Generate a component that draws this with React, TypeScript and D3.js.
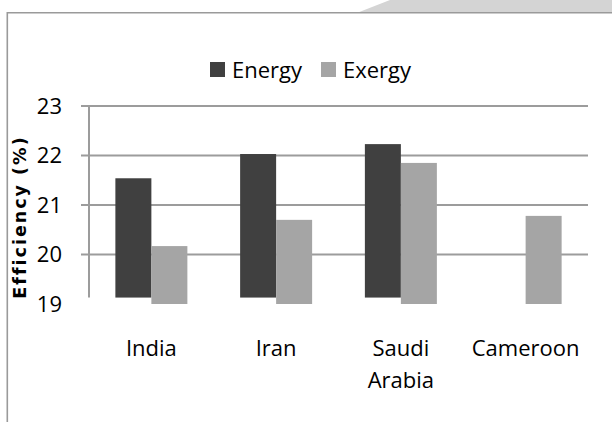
import React from "react";
import * as d3 from "d3";

const categories = ["India", "Iran", "Saudi Arabia", "Cameroon"];
const categoryLines = [["India"], ["Iran"], ["Saudi", "Arabia"], ["Cameroon"]];
const seriesNames = ["Energy", "Exergy"];
const energyValues: (number | null)[] = [21.54, 22.03, 22.23, null];
const exergyValues: (number | null)[] = [20.17, 20.7, 21.85, 20.78];
const yTicks = [19, 20, 21, 22, 23];
const energyBase = 19.13;
const exergyBase = 19;
const axisTitle = "Efficiency (%)";

const colors: Record<string, string> = { Energy: "#404040", Exergy: "#a5a5a5" };
const FONT = "'Open Sans', 'Liberation Sans', sans-serif";

export default function App() {
  const W = 612, H = 422;
  const left = 89, right = 588;
  const y = d3.scaleLinear().domain([19, 23]).range([304, 106]);
  const x0 = d3.scaleBand<string>().domain(categories).range([left, right]).padding(0);
  const step = x0.bandwidth();
  const groupW = 72;
  const x1 = d3
    .scaleBand<string>()
    .domain(seriesNames)
    .range([(step - groupW) / 2, (step + groupW) / 2])
    .padding(0);

  const seriesData: Record<string, (number | null)[]> = {
    Energy: energyValues,
    Exergy: exergyValues,
  };
  const bases: Record<string, number> = { Energy: energyBase, Exergy: exergyBase };
  const grid = yTicks.filter((t) => t > 19);

  return (
    <svg
      width={W}
      height={H}
      style={{ position: "absolute", left: 0, top: 0, background: "#fff" }}
    >
      {/* frame */}
      <polygon points="358,12.5 390,0 612,0 612,12.5" fill="#d4d4d4" />
      <line x1={7} x2={612} y1={12.7} y2={12.7} stroke="#9a9a9a" strokeWidth={1.6} />
      <line x1={7.3} x2={7.3} y1={12} y2={422} stroke="#9a9a9a" strokeWidth={1.6} />

      {/* legend */}
      {seriesNames.map((s, i) => {
        const lx = i === 0 ? 210 : 321;
        return (
          <g key={s}>
            <rect x={lx} y={62} width={15} height={15} fill={colors[s]} />
            <text x={lx + 22} y={77.5} fontFamily={FONT} fontSize={22} fill="#000">
              {s}
            </text>
          </g>
        );
      })}

      {/* gridlines + ticks */}
      {grid.map((t) => (
        <line
          key={t}
          x1={81}
          x2={right}
          y1={y(t)}
          y2={y(t)}
          stroke="#9c9c9c"
          strokeWidth={2}
        />
      ))}
      <line x1={left} x2={left} y1={y(23) - 1} y2={y(energyBase)} stroke="#9c9c9c" strokeWidth={2} />

      {/* tick labels */}
      {yTicks.map((t) => (
        <text
          key={t}
          x={62}
          y={y(t)}
          dy="0.36em"
          textAnchor="end"
          fontFamily={FONT}
          fontSize={22}
          fill="#000"
        >
          {t}
        </text>
      ))}

      {/* axis title */}
      <text
        transform={`translate(26,${217}) rotate(-90)`}
        textAnchor="middle"
        fontFamily="'DejaVu Sans', Verdana, sans-serif"
        fontWeight="bold"
        fontSize={17.5}
        letterSpacing={2}
        fill="#000"
      >
        {axisTitle}
      </text>

      {/* bars */}
      {categories.map((c, ci) => (
        <g key={c} transform={`translate(${x0(c)},0)`}>
          {seriesNames.map((s) => {
            const v = seriesData[s][ci];
            if (v == null) return null;
            const top = y(v);
            const bottom = y(bases[s]);
            return (
              <rect
                key={s}
                x={x1(s)}
                y={top}
                width={x1.bandwidth()}
                height={bottom - top}
                fill={colors[s]}
              />
            );
          })}
        </g>
      ))}

      {/* category labels */}
      {categories.map((c, ci) => (
        <text
          key={c}
          x={(x0(c) as number) + step / 2}
          y={356}
          textAnchor="middle"
          fontFamily={FONT}
          fontSize={22}
          fill="#000"
        >
          {categoryLines[ci].map((ln, li) => (
            <tspan key={li} x={(x0(c) as number) + step / 2} dy={li === 0 ? 0 : 31.5}>
              {ln}
            </tspan>
          ))}
        </text>
      ))}
    </svg>
  );
}
